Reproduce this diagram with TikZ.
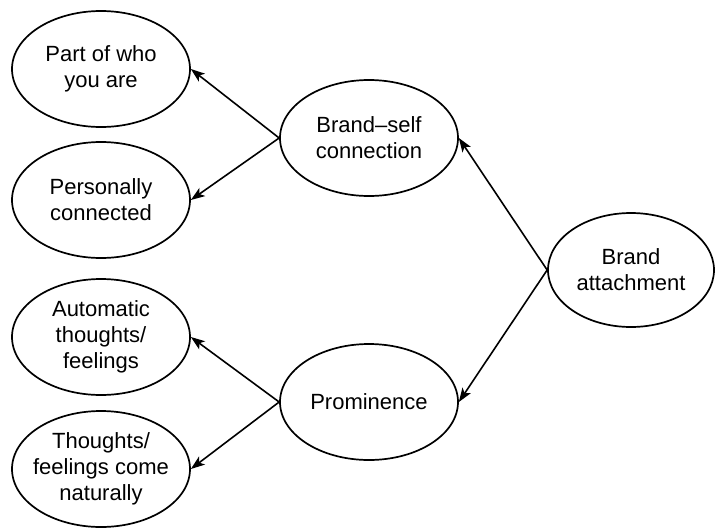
\documentclass[tikz,border=0pt]{standalone}
\usepackage{fontspec}
\setmainfont{Liberation Sans}
\usetikzlibrary{shapes.geometric,arrows.meta}
\begin{document}
\begin{tikzpicture}[x=1pt,y=-1pt,
  oval/.style={ellipse,draw,line width=1.7pt,inner sep=0pt,minimum width=178pt,minimum height=116pt},
  every label/.style={font=\fontsize{22}{26}\selectfont,align=center,inner sep=0pt},
  conn/.style={line width=1.6pt,-{Stealth[length=14pt,width=10pt,inset=3.5pt]}}]
\useasboundingbox (0,0) rectangle (715,528);
\node[oval] (part) at (101,69) [label={center:Part of who\\you are}] {};
\node[oval] (pers) at (101,200) [label={center:Personally\\connected}] {};
\node[oval] (auto) at (101,337) [label={center:Automatic\\thoughts/\\feelings}] {};
\node[oval] (nat) at (101,469) [label={center:Thoughts/\\feelings come\\naturally}] {};
\node[oval] (bsc) at (369,138) [label={center:Brand--self\\connection}] {};
\node[oval] (prom) at (369,402) [label={center:Prominence}] {};
\node[oval,minimum width=166pt,minimum height=114pt] (ba) at (631,270) [label={center:Brand\\attachment}] {};
\draw[conn] (bsc.west) -- (part.east);
\draw[conn] (bsc.west) -- (pers.east);
\draw[conn] (prom.west) -- (auto.east);
\draw[conn] (prom.west) -- (nat.east);
\draw[conn] (ba.west) -- (bsc.east);
\draw[conn] (ba.west) -- (prom.east);
\end{tikzpicture}
\end{document}
